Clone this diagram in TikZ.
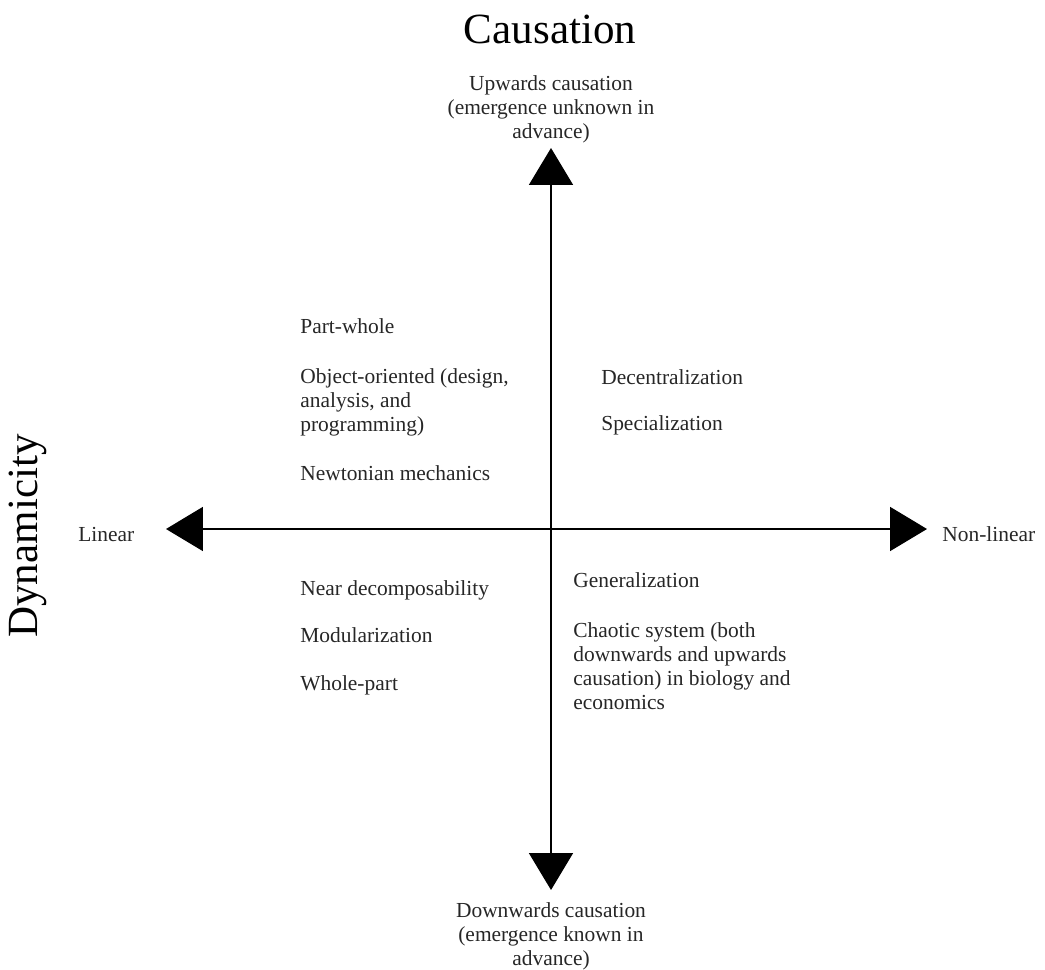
\documentclass[tikz,border=0pt]{standalone}
\usepackage{fontspec}
\setmainfont{Liberation Serif}
\usetikzlibrary{arrows.meta}

\begin{document}
\begin{tikzpicture}[x=0.02cm,y=-0.02cm,
		big/.style={inner sep=0pt,font=\fontsize{24.5}{28}\selectfont},
		item/.style={inner sep=0pt,anchor=north west,align=left,text=black!85,font=\fontsize{12.2}{13.8}\selectfont},
		pole/.style={inner sep=0pt,align=center,text=black!85,font=\fontsize{12.2}{13.8}\selectfont},
		axis/.style={line width=1pt,{Triangle[width=25pt,length=21pt]}-{Triangle[width=25pt,length=21pt]}}]
			\useasboundingbox (0,0) rectangle (1045,970);
			% titles
			\node[big] (ca) at (550,29) {Causation};
			\node[big,rotate=90] (dy) at (28,536) {Dynamicity};
			% ends of the axes
			\coordinate (up) at (551,148);
			\coordinate (dn) at (551,890);
			\coordinate (le) at (166,529);
			\coordinate (ri) at (927,529);
			\draw[axis](dn)--(up);
			\draw[axis](le)--(ri);
			% pole labels
			\node[pole,anchor=north] (uc) at (551,75) {Upwards causation\\(emergence unknown in\\advance)};
			\node[pole,anchor=north] (dc) at (551,902) {Downwards causation\\(emergence known in\\advance)};
			\node[pole,anchor=mid west] (li) at (78,537) {Linear};
			\node[pole,anchor=mid west] (nl) at (942,537) {Non-linear};
			% upper left
			\node[item] (pw) at (300,318) {Part-whole};
			\node[item] (oo) at (300,368) {Object-oriented (design,\\analysis, and\\programming)};
			\node[item] (nm) at (300,465) {Newtonian mechanics};
			% upper right
			\node[item] (de) at (601,369) {Decentralization};
			\node[item] (sp) at (601,415) {Specialization};
			% lower left
			\node[item] (nd) at (300,580) {Near decomposability};
			\node[item] (mo) at (300,627) {Modularization};
			\node[item] (wp) at (300,675) {Whole-part};
			% lower right
			\node[item] (ge) at (573,572) {Generalization};
			\node[item] (ch) at (573,622) {Chaotic system (both\\downwards and upwards\\causation) in biology and\\economics};
		\end{tikzpicture}
\end{document}
